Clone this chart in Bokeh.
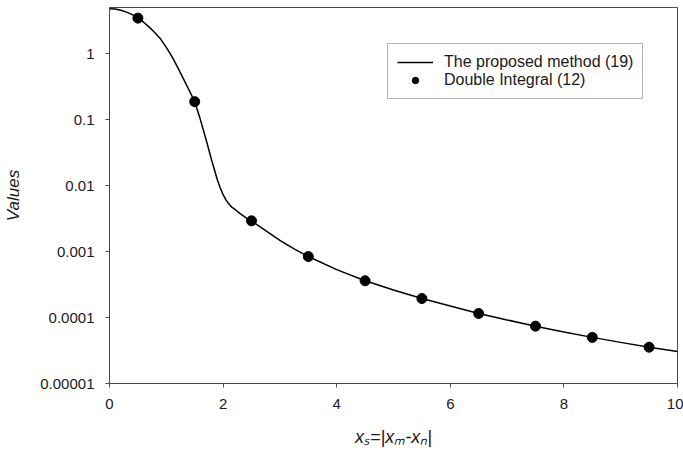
from bokeh.plotting import figure
from bokeh.models import FixedTicker, Legend, LegendItem, Range1d, ColumnDataSource
from bokeh.embed import file_html
from bokeh.resources import INLINE

# Curve: "The proposed method (19)"
curve_x = [0.0, 0.1, 0.2, 0.3, 0.4, 0.5, 0.6, 0.7, 0.8, 0.9, 1.0, 1.1, 1.2, 1.3, 1.4, 1.5,
           1.6, 1.7, 1.8, 1.9, 1.95, 2.0, 2.05, 2.1, 2.15, 2.2, 2.3, 2.4, 2.5, 2.75, 3.0, 3.25, 3.5,
           4.0, 4.5, 5.0, 5.5, 6.0, 6.5, 7.0, 7.5, 8.0, 8.5, 9.0, 9.5, 10.0]
curve_y = [4.8, 4.73, 4.55, 4.26, 3.89, 3.45, 2.99, 2.52, 2.07, 1.66, 1.24, 0.90, 0.617, 0.418, 0.281, 0.187,
           0.100, 0.050, 0.024, 0.01216, 0.00918, 0.00729, 0.00607, 0.00528, 0.00473, 0.00442,
           0.00376, 0.00327, 0.00292, 0.00207, 0.00148, 0.0011, 0.00084,
           0.000533, 0.00036, 0.000261, 0.000194, 0.000149, 0.000115, 0.000092, 0.000074, 0.0000605, 0.00005,
           0.000042, 0.0000355, 0.0000305]

# Points: "Double Integral (12)"
pts_x = [0.5, 1.5, 2.5, 3.5, 4.5, 5.5, 6.5, 7.5, 8.5, 9.5]
pts_y = [3.45, 0.187, 0.00292, 0.00084, 0.00036, 0.000194, 0.000115, 0.000074, 0.00005, 0.0000355]

x_ticks = [0, 2, 4, 6, 8, 10]
y_ticks = [0.00001, 0.0001, 0.001, 0.01, 0.1, 1]
y_tick_labels = ["0.00001", "0.0001", "0.001", "0.01", "0.1", "1"]

series_names = ["The proposed method (19)", "Double Integral (12)"]
x_label = "x\u209b=|x\u2098-x\u2099|"
y_label = "Values"

FONT = "Liberation Sans"
AXIS_COL = "#4a4a4a"

p = figure(width=683, height=450, y_axis_type="log",
           x_range=Range1d(0, 10), y_range=Range1d(0.00001, 5),
           output_backend="svg", toolbar_location=None,
           min_border_left=109, min_border_right=6, min_border_top=7, min_border_bottom=67)

p.background_fill_color = "white"
p.border_fill_color = "white"
p.outline_line_color = AXIS_COL
p.outline_line_width = 1
p.xgrid.visible = False
p.ygrid.visible = False

line = p.line(curve_x, curve_y, line_color="black", line_width=1.5)
src = ColumnDataSource(dict(x=pts_x, y=pts_y))
dots = p.scatter("x", "y", source=src, size=10, fill_color="black", line_color="black")

for ax in (p.xaxis[0], p.yaxis[0]):
    ax.axis_line_color = AXIS_COL
    ax.major_tick_line_color = AXIS_COL
    ax.major_tick_in = 0
    ax.major_tick_out = 4
    ax.minor_tick_line_color = None
    ax.major_label_text_font = FONT
    ax.major_label_text_font_size = "15px"
    ax.major_label_text_color = "#1a1a1a"
    ax.axis_label_text_font = FONT
    ax.axis_label_text_font_style = "italic"
    ax.axis_label_text_color = "#1a1a1a"

p.xaxis.axis_label_text_font_size = "18px"
p.yaxis.axis_label_text_font_size = "17px"
p.xaxis.ticker = FixedTicker(ticks=x_ticks)
p.yaxis.ticker = FixedTicker(ticks=y_ticks)
p.yaxis.major_label_overrides = {t: l for t, l in zip(y_ticks, y_tick_labels)}
p.xaxis.major_label_standoff = 11
p.yaxis.major_label_standoff = 11
p.xaxis.axis_label = x_label
p.yaxis.axis_label = y_label
p.xaxis.axis_label_standoff = 15
p.yaxis.axis_label_standoff = 14

legend = Legend(items=[LegendItem(label=series_names[0], renderers=[line]),
                       LegendItem(label=series_names[1], renderers=[dots])],
                location=(278, 284))
legend.label_text_font = FONT
legend.label_text_font_size = "16px"
legend.label_text_color = "#1a1a1a"
legend.glyph_width = 36
legend.glyph_height = 16
legend.label_height = 16
legend.label_standoff = 11
legend.spacing = -1
legend.padding = 9
legend.margin = 0
legend.border_line_color = "#666666"
legend.border_line_width = 1
legend.background_fill_color = "white"
legend.background_fill_alpha = 1.0
p.add_layout(legend)

open("out.html", "w").write(file_html(p, INLINE))
